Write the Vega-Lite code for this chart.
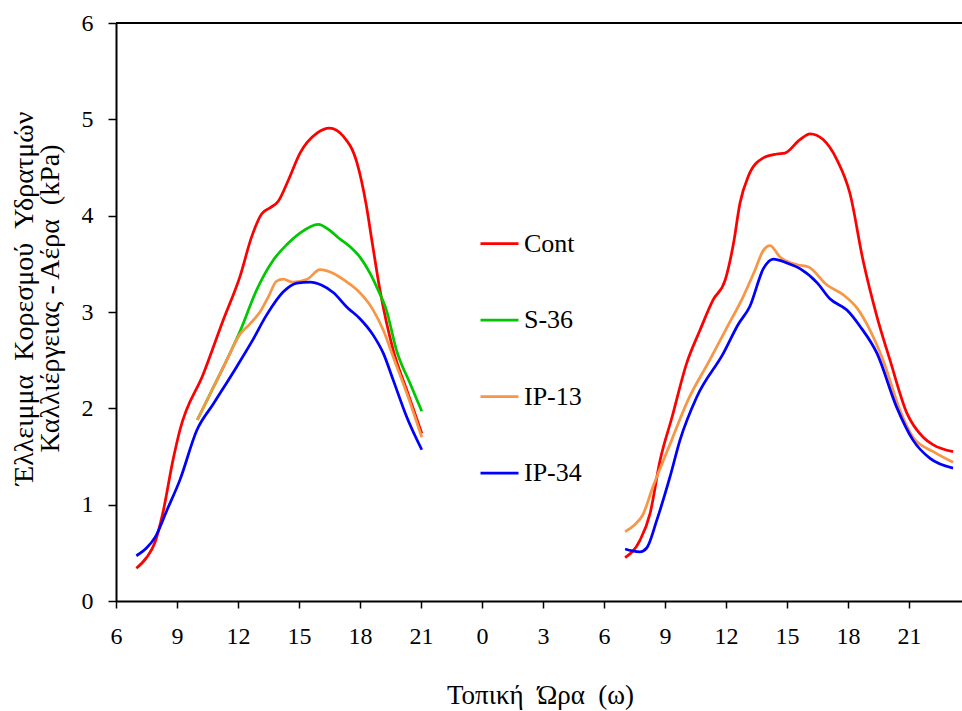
{
  "$schema": "https://vega.github.io/schema/vega-lite/v6.json",
  "width": 846,
  "height": 578,
  "autosize": {"type": "none"},
  "padding": {"left": 116, "top": 23, "right": 0, "bottom": 110},
  "background": "white",
  "config": {"view": {"stroke": null}, "font": "Liberation Serif"},
  "datasets": {
    "border": [{"b": 1}],
    "vpd": [
      {"s": "Cont", "d": 1, "x": 7, "y": 0.34},
      {"s": "Cont", "d": 1, "x": 7.5, "y": 0.45},
      {"s": "Cont", "d": 1, "x": 7.92, "y": 0.61},
      {"s": "Cont", "d": 1, "x": 8.3, "y": 0.91},
      {"s": "Cont", "d": 1, "x": 8.8, "y": 1.46},
      {"s": "Cont", "d": 1, "x": 9.15, "y": 1.78},
      {"s": "Cont", "d": 1, "x": 10.3, "y": 2.36},
      {"s": "Cont", "d": 1, "x": 11.28, "y": 2.92},
      {"s": "Cont", "d": 1, "x": 12.1, "y": 3.37},
      {"s": "Cont", "d": 1, "x": 12.67, "y": 3.78},
      {"s": "Cont", "d": 1, "x": 13.17, "y": 4.02},
      {"s": "Cont", "d": 1, "x": 13.57, "y": 4.08},
      {"s": "Cont", "d": 1, "x": 13.98, "y": 4.15},
      {"s": "Cont", "d": 1, "x": 14.48, "y": 4.37},
      {"s": "Cont", "d": 1, "x": 15.05, "y": 4.65},
      {"s": "Cont", "d": 1, "x": 15.9, "y": 4.86},
      {"s": "Cont", "d": 1, "x": 16.5, "y": 4.91},
      {"s": "Cont", "d": 1, "x": 17.2, "y": 4.82},
      {"s": "Cont", "d": 1, "x": 17.85, "y": 4.55},
      {"s": "Cont", "d": 1, "x": 18.3, "y": 4.12},
      {"s": "Cont", "d": 1, "x": 18.58, "y": 3.75},
      {"s": "Cont", "d": 1, "x": 18.98, "y": 3.23},
      {"s": "Cont", "d": 1, "x": 19.64, "y": 2.6},
      {"s": "Cont", "d": 1, "x": 20.3, "y": 2.19},
      {"s": "Cont", "d": 1, "x": 21.04, "y": 1.74},
      {"s": "S-36", "d": 1, "x": 10, "y": 1.88},
      {"s": "S-36", "d": 1, "x": 10.7, "y": 2.18},
      {"s": "S-36", "d": 1, "x": 11.4, "y": 2.48},
      {"s": "S-36", "d": 1, "x": 12.1, "y": 2.8},
      {"s": "S-36", "d": 1, "x": 12.92, "y": 3.23},
      {"s": "S-36", "d": 1, "x": 13.74, "y": 3.54},
      {"s": "S-36", "d": 1, "x": 14.4, "y": 3.7},
      {"s": "S-36", "d": 1, "x": 15.05, "y": 3.82},
      {"s": "S-36", "d": 1, "x": 15.95, "y": 3.91},
      {"s": "S-36", "d": 1, "x": 16.5, "y": 3.85},
      {"s": "S-36", "d": 1, "x": 17.0, "y": 3.76},
      {"s": "S-36", "d": 1, "x": 17.5, "y": 3.68},
      {"s": "S-36", "d": 1, "x": 18.0, "y": 3.57},
      {"s": "S-36", "d": 1, "x": 18.5, "y": 3.4},
      {"s": "S-36", "d": 1, "x": 18.82, "y": 3.26},
      {"s": "S-36", "d": 1, "x": 19.3, "y": 3.02},
      {"s": "S-36", "d": 1, "x": 19.8, "y": 2.6},
      {"s": "S-36", "d": 1, "x": 20.46, "y": 2.26},
      {"s": "S-36", "d": 1, "x": 21.04, "y": 1.97},
      {"s": "IP-13", "d": 1, "x": 10, "y": 1.88},
      {"s": "IP-13", "d": 1, "x": 10.7, "y": 2.18},
      {"s": "IP-13", "d": 1, "x": 11.4, "y": 2.48},
      {"s": "IP-13", "d": 1, "x": 12.1, "y": 2.77},
      {"s": "IP-13", "d": 1, "x": 12.6, "y": 2.88},
      {"s": "IP-13", "d": 1, "x": 13.08, "y": 3.0},
      {"s": "IP-13", "d": 1, "x": 13.5, "y": 3.16},
      {"s": "IP-13", "d": 1, "x": 13.9, "y": 3.32},
      {"s": "IP-13", "d": 1, "x": 14.23, "y": 3.34},
      {"s": "IP-13", "d": 1, "x": 14.7, "y": 3.31},
      {"s": "IP-13", "d": 1, "x": 15.4, "y": 3.34},
      {"s": "IP-13", "d": 1, "x": 16.03, "y": 3.44},
      {"s": "IP-13", "d": 1, "x": 16.7, "y": 3.4},
      {"s": "IP-13", "d": 1, "x": 17.3, "y": 3.32},
      {"s": "IP-13", "d": 1, "x": 17.85, "y": 3.23},
      {"s": "IP-13", "d": 1, "x": 18.65, "y": 3.02},
      {"s": "IP-13", "d": 1, "x": 19.15, "y": 2.81},
      {"s": "IP-13", "d": 1, "x": 19.64, "y": 2.53},
      {"s": "IP-13", "d": 1, "x": 20.3, "y": 2.16},
      {"s": "IP-13", "d": 1, "x": 21.04, "y": 1.7},
      {"s": "IP-34", "d": 1, "x": 7, "y": 0.47},
      {"s": "IP-34", "d": 1, "x": 7.5, "y": 0.55},
      {"s": "IP-34", "d": 1, "x": 7.92, "y": 0.66},
      {"s": "IP-34", "d": 1, "x": 8.5, "y": 0.94},
      {"s": "IP-34", "d": 1, "x": 9.15, "y": 1.26},
      {"s": "IP-34", "d": 1, "x": 9.97, "y": 1.77},
      {"s": "IP-34", "d": 1, "x": 10.8, "y": 2.05},
      {"s": "IP-34", "d": 1, "x": 11.93, "y": 2.43},
      {"s": "IP-34", "d": 1, "x": 12.7, "y": 2.7},
      {"s": "IP-34", "d": 1, "x": 13.41, "y": 2.97},
      {"s": "IP-34", "d": 1, "x": 14.23, "y": 3.21},
      {"s": "IP-34", "d": 1, "x": 14.9, "y": 3.3},
      {"s": "IP-34", "d": 1, "x": 15.55, "y": 3.31},
      {"s": "IP-34", "d": 1, "x": 16.1, "y": 3.28},
      {"s": "IP-34", "d": 1, "x": 16.7, "y": 3.2},
      {"s": "IP-34", "d": 1, "x": 17.36, "y": 3.05},
      {"s": "IP-34", "d": 1, "x": 18.0, "y": 2.93},
      {"s": "IP-34", "d": 1, "x": 18.65, "y": 2.76},
      {"s": "IP-34", "d": 1, "x": 19.15, "y": 2.57},
      {"s": "IP-34", "d": 1, "x": 19.64, "y": 2.29},
      {"s": "IP-34", "d": 1, "x": 20.3, "y": 1.91},
      {"s": "IP-34", "d": 1, "x": 21.04, "y": 1.57},
      {"s": "Cont", "d": 2, "x": 31.04, "y": 0.45},
      {"s": "Cont", "d": 2, "x": 31.77, "y": 0.63},
      {"s": "Cont", "d": 2, "x": 32.27, "y": 0.91},
      {"s": "Cont", "d": 2, "x": 32.76, "y": 1.46},
      {"s": "Cont", "d": 2, "x": 33.35, "y": 1.91},
      {"s": "Cont", "d": 2, "x": 34.07, "y": 2.47},
      {"s": "Cont", "d": 2, "x": 34.7, "y": 2.8},
      {"s": "Cont", "d": 2, "x": 35.38, "y": 3.13},
      {"s": "Cont", "d": 2, "x": 35.96, "y": 3.33},
      {"s": "Cont", "d": 2, "x": 36.37, "y": 3.71},
      {"s": "Cont", "d": 2, "x": 36.69, "y": 4.13},
      {"s": "Cont", "d": 2, "x": 37.1, "y": 4.41},
      {"s": "Cont", "d": 2, "x": 37.84, "y": 4.6},
      {"s": "Cont", "d": 2, "x": 38.5, "y": 4.64},
      {"s": "Cont", "d": 2, "x": 38.9, "y": 4.65},
      {"s": "Cont", "d": 2, "x": 39.64, "y": 4.79},
      {"s": "Cont", "d": 2, "x": 40.14, "y": 4.85},
      {"s": "Cont", "d": 2, "x": 40.78, "y": 4.79},
      {"s": "Cont", "d": 2, "x": 41.46, "y": 4.58},
      {"s": "Cont", "d": 2, "x": 42.1, "y": 4.23},
      {"s": "Cont", "d": 2, "x": 42.74, "y": 3.54},
      {"s": "Cont", "d": 2, "x": 43.43, "y": 2.95},
      {"s": "Cont", "d": 2, "x": 44.07, "y": 2.5},
      {"s": "Cont", "d": 2, "x": 44.9, "y": 1.95},
      {"s": "Cont", "d": 2, "x": 45.7, "y": 1.7},
      {"s": "Cont", "d": 2, "x": 46.2, "y": 1.62},
      {"s": "Cont", "d": 2, "x": 47.17, "y": 1.55},
      {"s": "IP-13", "d": 2, "x": 31.04, "y": 0.72},
      {"s": "IP-13", "d": 2, "x": 31.5, "y": 0.79},
      {"s": "IP-13", "d": 2, "x": 31.9, "y": 0.89},
      {"s": "IP-13", "d": 2, "x": 32.4, "y": 1.18},
      {"s": "IP-13", "d": 2, "x": 33.33, "y": 1.67},
      {"s": "IP-13", "d": 2, "x": 34.1, "y": 2.07},
      {"s": "IP-13", "d": 2, "x": 35.2, "y": 2.5},
      {"s": "IP-13", "d": 2, "x": 36.0, "y": 2.82},
      {"s": "IP-13", "d": 2, "x": 36.85, "y": 3.16},
      {"s": "IP-13", "d": 2, "x": 37.4, "y": 3.42},
      {"s": "IP-13", "d": 2, "x": 37.84, "y": 3.64},
      {"s": "IP-13", "d": 2, "x": 38.17, "y": 3.69},
      {"s": "IP-13", "d": 2, "x": 38.66, "y": 3.57},
      {"s": "IP-13", "d": 2, "x": 39.5, "y": 3.49},
      {"s": "IP-13", "d": 2, "x": 40.04, "y": 3.47},
      {"s": "IP-13", "d": 2, "x": 40.97, "y": 3.28},
      {"s": "IP-13", "d": 2, "x": 41.76, "y": 3.18},
      {"s": "IP-13", "d": 2, "x": 42.45, "y": 3.04},
      {"s": "IP-13", "d": 2, "x": 43.09, "y": 2.81},
      {"s": "IP-13", "d": 2, "x": 43.73, "y": 2.5},
      {"s": "IP-13", "d": 2, "x": 44.56, "y": 1.98},
      {"s": "IP-13", "d": 2, "x": 45.2, "y": 1.7},
      {"s": "IP-13", "d": 2, "x": 46.2, "y": 1.55},
      {"s": "IP-13", "d": 2, "x": 47.17, "y": 1.44},
      {"s": "IP-34", "d": 2, "x": 31.04, "y": 0.54},
      {"s": "IP-34", "d": 2, "x": 31.4, "y": 0.52},
      {"s": "IP-34", "d": 2, "x": 31.77, "y": 0.51},
      {"s": "IP-34", "d": 2, "x": 32.1, "y": 0.55},
      {"s": "IP-34", "d": 2, "x": 32.6, "y": 0.84},
      {"s": "IP-34", "d": 2, "x": 33.25, "y": 1.29},
      {"s": "IP-34", "d": 2, "x": 33.74, "y": 1.67},
      {"s": "IP-34", "d": 2, "x": 34.57, "y": 2.12},
      {"s": "IP-34", "d": 2, "x": 35.87, "y": 2.57},
      {"s": "IP-34", "d": 2, "x": 36.6, "y": 2.87},
      {"s": "IP-34", "d": 2, "x": 37.18, "y": 3.06},
      {"s": "IP-34", "d": 2, "x": 37.84, "y": 3.45},
      {"s": "IP-34", "d": 2, "x": 38.33, "y": 3.55},
      {"s": "IP-34", "d": 2, "x": 38.99, "y": 3.51},
      {"s": "IP-34", "d": 2, "x": 39.64, "y": 3.45},
      {"s": "IP-34", "d": 2, "x": 40.5, "y": 3.3},
      {"s": "IP-34", "d": 2, "x": 41.1, "y": 3.14},
      {"s": "IP-34", "d": 2, "x": 41.95, "y": 3.02},
      {"s": "IP-34", "d": 2, "x": 42.6, "y": 2.85},
      {"s": "IP-34", "d": 2, "x": 43.43, "y": 2.57},
      {"s": "IP-34", "d": 2, "x": 44.4, "y": 2.01},
      {"s": "IP-34", "d": 2, "x": 45.2, "y": 1.67},
      {"s": "IP-34", "d": 2, "x": 46.04, "y": 1.48},
      {"s": "IP-34", "d": 2, "x": 47.17, "y": 1.38}
    ]
  },
  "layer": [
    {
      "data": {"name": "border"},
      "mark": {"type": "rule", "color": "black", "strokeWidth": 2},
      "encoding": {"y": {"datum": 6, "type": "quantitative"}}
    },
    {
      "data": {"name": "vpd"},
      "mark": {"type": "line", "interpolate": "monotone", "strokeWidth": 2.75},
      "encoding": {
        "x": {
          "field": "x",
          "type": "quantitative",
          "scale": {"domain": [6, 47.61], "nice": false, "zero": false},
          "axis": {
            "values": [6, 9, 12, 15, 18, 21, 24, 27, 30, 33, 36, 39, 42, 45],
            "labelExpr": "'' + (datum.value % 24)",
            "title": "Τοπική \u00a0Ώρα \u00a0(ω)",
            "grid": false,
            "domainColor": "black",
            "domainWidth": 2,
            "tickColor": "black",
            "tickWidth": 1.5,
            "tickSize": 7,
            "labelFont": "Liberation Serif",
            "labelFontSize": 24,
            "labelColor": "black",
            "labelPadding": 16,
            "labelOverlap": false,
            "labelFlush": false,
            "titleFont": "Liberation Serif",
            "titleFontSize": 27,
            "titleFontWeight": "normal",
            "titleColor": "black",
            "titleBaseline": "alphabetic",
            "titleY": 102,
            "titleX": 424
          }
        },
        "y": {
          "field": "y",
          "type": "quantitative",
          "scale": {"domain": [0, 6], "nice": false},
          "axis": {
            "values": [0, 1, 2, 3, 4, 5, 6],
            "format": "d",
            "title": ["Έλλειμμα \u00a0Κορεσμού \u00a0Υδρατμών", "Καλλιέργειας - Αέρα \u00a0(kPa)"],
            "grid": false,
            "domainColor": "black",
            "domainWidth": 2,
            "tickColor": "black",
            "tickWidth": 1.5,
            "tickSize": 8,
            "labelFont": "Liberation Serif",
            "labelFontSize": 24,
            "labelColor": "black",
            "labelPadding": 15,
            "labelOverlap": false,
            "labelFlush": false,
            "titleFont": "Liberation Serif",
            "titleFontSize": 28,
            "titleFontWeight": "normal",
            "titleColor": "black",
            "titleLineHeight": 26,
            "titleAngle": -90,
            "titleAlign": "center",
            "titleBaseline": "alphabetic",
            "titleX": -84,
            "titleY": 275
          }
        },
        "color": {
          "field": "s",
          "type": "nominal",
          "scale": {
            "domain": ["Cont", "S-36", "IP-13", "IP-34"],
            "range": ["#FF0000", "#00C800", "#F79646", "#0000FF"]
          },
          "legend": {
            "orient": "none",
            "legendX": 363,
            "legendY": 200,
            "title": null,
            "padding": 0,
            "symbolType": "stroke",
            "symbolSize": 1444,
            "symbolStrokeWidth": 2.75,
            "labelFont": "Liberation Serif",
            "labelFontSize": 26,
            "labelColor": "black",
            "labelOffset": 4,
            "labelLimit": 0,
            "rowPadding": 42.5
          }
        },
        "detail": {"field": "d", "type": "nominal"}
      }
    }
  ]
}
